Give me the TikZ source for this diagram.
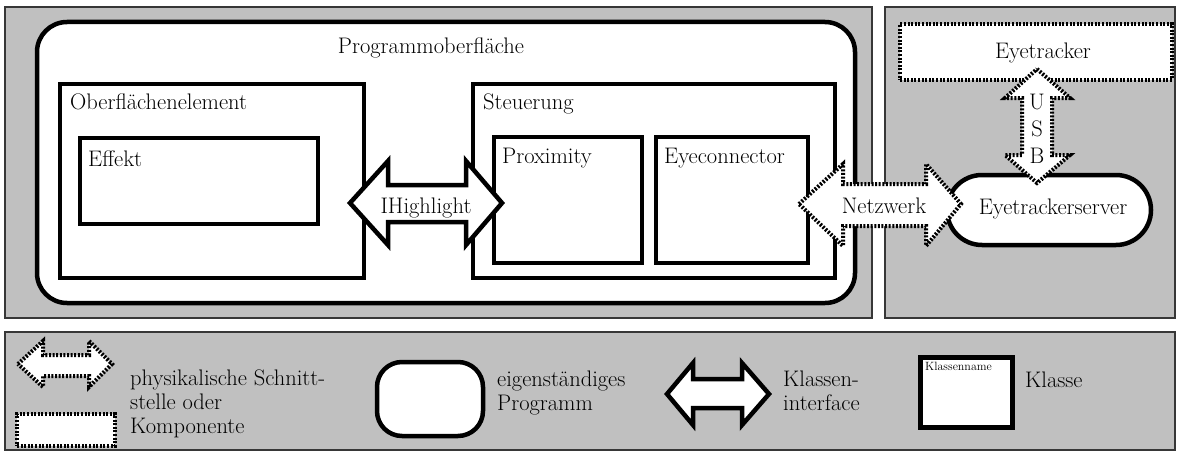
\documentclass[tikz,border=0pt]{standalone}
\usepackage{fontspec}
\definecolor{panelgray}{RGB}{192,192,192}
\definecolor{panelline}{RGB}{55,55,55}
\begin{document}
\begin{tikzpicture}[x=1pt,y=-1pt,
  panel/.style={draw=panelline, line width=1.6pt, fill=panelgray},
  klasse/.style={draw, line width=4.5pt, fill=white, inner sep=0pt},
  prog/.style={draw, line width=4.5pt, fill=white, inner sep=0pt},
  iface/.style={draw, line width=4.5pt, fill=white, line join=miter},
  phys/.style={draw, line width=4pt, fill=white, dash pattern=on 2pt off 1.6pt},
  lbl/.style={font=\fontsize{22.5}{24}\selectfont, inner sep=0pt},
  tiny/.style={font=\fontsize{12}{14}\selectfont, inner sep=0pt}
]
\useasboundingbox (0,0) rectangle (1178,452);

% background panels
\draw[panel] (5,7) rectangle (872,318);
\draw[panel] (885,7) rectangle (1175,318);
\draw[panel] (5,332) rectangle (1175,450);

% application window with its classes
\node[prog, rounded corners=30pt, minimum width=818pt, minimum height=281pt] (prog) at (446,162.5) {};
\node[lbl, anchor=base] (progl) at (431,54) {Programmoberfläche};

\node[klasse, minimum width=304pt, minimum height=194pt] (ober) at (212,181) {};
\node[lbl, anchor=base west] (oberl) at (70,109) {Oberflächenelement};
\node[klasse, minimum width=238pt, minimum height=86pt] (effekt) at (199,181) {};
\node[lbl, anchor=base west] (effektl) at (88,166) {Effekt};

\node[klasse, minimum width=362pt, minimum height=194pt] (steuer) at (654,181) {};
\node[lbl, anchor=base west] (steuerl) at (483,109) {Steuerung};
\node[klasse, minimum width=148pt, minimum height=126pt] (prox) at (568,200) {};
\node[lbl, anchor=base west] (proxl) at (502,163) {Proximity};
\node[klasse, minimum width=152pt, minimum height=126pt] (eyecon) at (732,200) {};
\node[lbl, anchor=base west] (eyeconl) at (664,163) {Eyeconnector};

% class interface between element and control
\draw[iface] (350,203) -- (388,161) -- (388,185) -- (466,185) -- (466,161)
  -- (502,203) -- (466,245) -- (466,222) -- (388,222) -- (388,245) -- cycle;
\node[lbl, anchor=base] (ihl) at (426,213) {IHighlight};

% eye tracker hardware and server
\node[phys, minimum width=272pt, minimum height=56pt, inner sep=0pt] (tracker) at (1036,52) {};
\node[lbl, anchor=base] (trackerl) at (1043,59) {Eyetracker};
\node[prog, rounded corners=35pt, minimum width=204pt, minimum height=70pt] (server) at (1049,210) {};
\node[lbl, anchor=base] (serverl) at (1053,214) {Eyetrackerserver};

% USB link
\draw[phys] (1037,69) -- (1070,98) -- (1052,98) -- (1052,155) -- (1070,155)
  -- (1037,183) -- (1005,155) -- (1022,155) -- (1022,98) -- (1005,98) -- cycle;
\node[lbl, align=center, font=\fontsize{22.5}{27}\selectfont, anchor=north] (usbl) at (1037,94) {U\\S\\B};

% network link
\draw[phys] (799,204) -- (843,164) -- (843,184) -- (926,184) -- (926,164)
  -- (961,204) -- (926,246) -- (926,226) -- (843,226) -- (843,246) -- cycle;
\node[lbl, anchor=base] (netzl) at (884,213) {Netzwerk};

% legend
\draw[phys] (18,364) -- (43,341) -- (43,355) -- (89,355) -- (89,341)
  -- (112,364) -- (89,387) -- (89,376) -- (43,376) -- (43,387) -- cycle;
\node[phys, minimum width=98pt, minimum height=32pt, inner sep=0pt] (legcomp) at (66,430) {};
\node[lbl, align=left, anchor=north west] (legphys) at (130,370)
  {physikalische Schnitt-\\stelle oder\\Komponente};

\node[prog, rounded corners=25pt, minimum width=106pt, minimum height=74pt] (legprog) at (430,399) {};
\node[lbl, align=left, anchor=north west] (legprogl) at (497,371)
  {eigenständiges\\Programm};

\draw[iface] (667,394) -- (693,363) -- (693,379) -- (742,379) -- (742,363)
  -- (769,394) -- (742,425) -- (742,408) -- (693,408) -- (693,425) -- cycle;
\node[lbl, align=left, anchor=north west] (legifl) at (783,371)
  {Klassen-\\interface};

\node[klasse, minimum width=92pt, minimum height=70pt] (legklasse) at (966.5,392.5) {};
\node[tiny, anchor=base west] (legname) at (925,370) {Klassenname};
\node[lbl, anchor=base west] (legklassel) at (1025,387) {Klasse};
\end{tikzpicture}
\end{document}
